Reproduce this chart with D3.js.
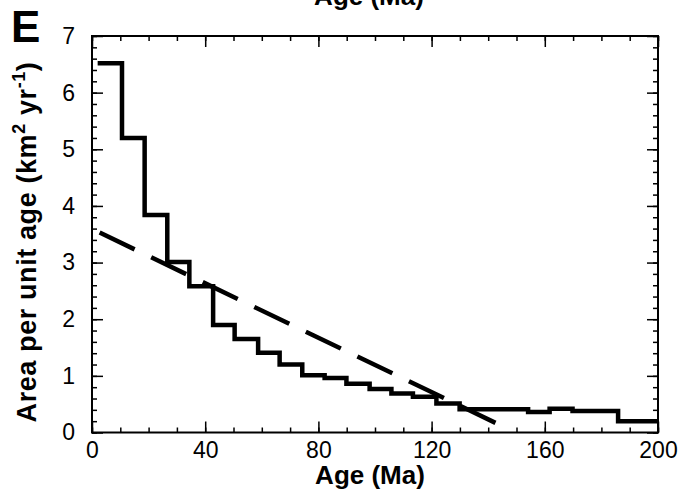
<!DOCTYPE html>
<html>
<head>
<meta charset="utf-8">
<script src="https://cdn.jsdelivr.net/npm/d3@7"></script>
<style>
  body { margin: 0; background: #fff; }
  svg text { font-family: "Liberation Sans", Arial, Helvetica, sans-serif; fill: #000; }
  .tick-label { font-size: 23px; }
  .axis-title { font-size: 26px; font-weight: bold; }
</style>
</head>
<body>
<div id="chart_e"></div>
<script>
// step histogram: bin edges (Ma) and area per unit age in each bin
var bin_edges = [2, 10.6, 18.6, 26.6, 34.4, 42.8, 50.4, 58.7, 66.3, 74.3, 82.2, 89.9,
                 98.1, 105.8, 113.4, 121.7, 129.9, 154.1, 161.7, 169.8, 185.9, 200]
var bin_values = [6.52, 5.2, 3.84, 3.01, 2.58, 1.9, 1.65, 1.41, 1.2, 1.01, 0.96, 0.86,
                  0.77, 0.69, 0.63, 0.51, 0.41, 0.36, 0.42, 0.38, 0.2]

// dashed linear fit, end points [age, value]
var fit_ages = [2.7, 143]
var fit_values = [3.53, 0.16]

var x_ticks = [0, 40, 80, 120, 160, 200]
var y_ticks = [0, 1, 2, 3, 4, 5, 6, 7]
var x_minor = d3.range(0, 201, 10)
var y_minor = d3.range(0, 7.01, 0.2)

var width = 686
    height = 501
    left = 92
    top_ = 36
    plot_w = 566
    plot_h = 396.5

var svg = d3.select("#chart_e")
    .append("svg")
    .attr("width", width)
    .attr("height", height);

var x = d3.scaleLinear().domain([0, 200]).range([0, plot_w]);
var y = d3.scaleLinear().domain([0, 7]).range([plot_h, 0]);

var g = svg.append("g")
    .attr("transform", "translate(" + left + "," + top_ + ")");

// -----------------------------------------------------------------------------
// ticks on all four sides, pointing inwards

function tick_style(sel) {
  sel.select(".domain").remove();
  sel.selectAll(".tick line").attr("stroke", "#000").attr("stroke-width", 1.5);
  sel.selectAll(".tick text").attr("class", "tick-label");
}

g.append("g")
  .attr("transform", "translate(0," + plot_h + ")")
  .call(d3.axisBottom(x).tickValues(x_ticks).tickSizeInner(-11).tickSizeOuter(0).tickPadding(9))
  .call(tick_style);
g.append("g")
  .attr("transform", "translate(0," + plot_h + ")")
  .call(d3.axisBottom(x).tickValues(x_minor).tickSize(-5).tickFormat(""))
  .call(tick_style);
g.append("g")
  .call(d3.axisTop(x).tickValues(x_ticks).tickSize(-11).tickFormat(""))
  .call(tick_style);
g.append("g")
  .call(d3.axisTop(x).tickValues(x_minor).tickSize(-5).tickFormat(""))
  .call(tick_style);

g.append("g")
  .call(d3.axisLeft(y).tickValues(y_ticks).tickFormat(d3.format("d"))
        .tickSizeInner(-11).tickSizeOuter(0).tickPadding(17))
  .call(tick_style);
g.append("g")
  .call(d3.axisLeft(y).tickValues(y_minor).tickSize(-5).tickFormat(""))
  .call(tick_style);
g.append("g")
  .attr("transform", "translate(" + plot_w + ",0)")
  .call(d3.axisRight(y).tickValues(y_ticks).tickSize(-11).tickFormat(""))
  .call(tick_style);
g.append("g")
  .attr("transform", "translate(" + plot_w + ",0)")
  .call(d3.axisRight(y).tickValues(y_minor).tickSize(-5).tickFormat(""))
  .call(tick_style);

// frame
g.append("rect")
  .attr("width", plot_w)
  .attr("height", plot_h)
  .attr("fill", "none")
  .attr("stroke", "#000")
  .attr("stroke-width", 2);

// -----------------------------------------------------------------------------
// data lines

var step_pts = bin_values.map(function(v, i) { return [bin_edges[i], v]; });
step_pts.push([bin_edges[bin_edges.length - 1], bin_values[bin_values.length - 1]]);

var step_line = d3.line()
    .x(function(d) { return x(d[0]); })
    .y(function(d) { return y(d[1]); })
    .curve(d3.curveStepAfter);

g.append("path")
  .attr("d", step_line(step_pts))
  .attr("fill", "none")
  .attr("stroke", "#000")
  .attr("stroke-width", 4.5)
  .attr("stroke-linejoin", "miter");

var fit_pts = fit_ages.map(function(a, i) { return [a, fit_values[i]]; });

g.append("path")
  .attr("d", d3.line().x(function(d) { return x(d[0]); }).y(function(d) { return y(d[1]); })(fit_pts))
  .attr("fill", "none")
  .attr("stroke", "#000")
  .attr("stroke-width", 4.5)
  .attr("stroke-dasharray", "38.8,18.4");

// -----------------------------------------------------------------------------
// titles

g.append("text")
    .attr("class", "axis-title")
    .attr("text-anchor", "middle")
    .attr("x", plot_w / 2 - 5)
    .attr("y", plot_h + 51)
    .text("Age (Ma)");

// x title of the panel above, cut off at the top edge
g.append("text")
    .attr("class", "axis-title")
    .attr("text-anchor", "middle")
    .attr("x", plot_w / 2 - 6)
    .attr("y", -31)
    .text("Age (Ma)");

var ylab = svg.append("text")
    .attr("class", "axis-title")
    .style("font-size", "27px")
    .style("letter-spacing", "0.6px")
    .attr("text-anchor", "middle")
    .attr("transform", "translate(36," + (top_ + 206) + ")rotate(-90)");
ylab.append("tspan").text("Area per unit age (km");
ylab.append("tspan").style("font-size", "18px").attr("dy", -11).text("2");
ylab.append("tspan").attr("dy", 11).text(" yr");
ylab.append("tspan").style("font-size", "18px").attr("dy", -11).text("-1");
ylab.append("tspan").attr("dy", 11).text(")");

svg.append("text")
    .attr("x", 11)
    .attr("y", 42)
    .attr("font-size", "44px")
    .attr("font-weight", "bold")
    .text("E");
</script>
</body>
</html>
